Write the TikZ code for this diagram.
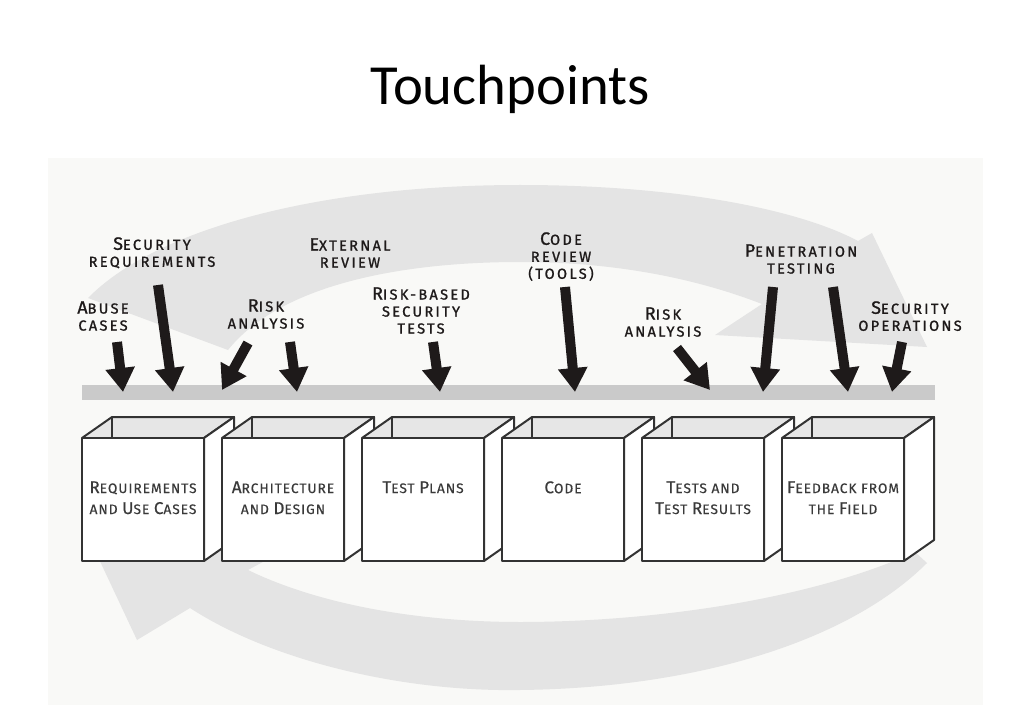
\documentclass[tikz,border=0pt]{standalone}
\usepackage{fontspec}
\usetikzlibrary{arrows.meta}
\newfontfamily\titlefont{Carlito}
\newfontfamily\labfont[LetterSpace=16,FakeBold=1.2]{Fira Sans}
\newfontfamily\boxfont[LetterSpace=7,FakeBold=0.4]{Fira Sans}
\definecolor{panel}{HTML}{F9F9F7}
\definecolor{band}{HTML}{E4E4E4}
\definecolor{barc}{HTML}{CACACA}
\definecolor{inner}{HTML}{E6E6E6}
\definecolor{edge}{HTML}{333333}
\definecolor{boxink}{HTML}{3A3A3A}
\definecolor{ink}{HTML}{1E1A1A}
\newcommand\LB[1]{{\fontsize{13.4}{12.75}\selectfont #1}}
\newcommand\BB[1]{{\fontsize{12.8}{15.75}\selectfont #1}}
\tikzset{
  lab/.style={align=center, anchor=north, inner sep=0pt, text=ink,
    font=\labfont\fontsize{10.9}{12.75}\selectfont},
  boxtext/.style={align=center, anchor=north, inner sep=0pt, text=boxink,
    font=\boxfont\fontsize{10.3}{15.75}\selectfont},
  bigarrow/.style={draw=ink, line width=7.5pt,
    -{Triangle[width=21pt,length=18pt]}},
  boxline/.style={draw=edge, line width=1.5pt, line join=round},
}
\newcommand\openbox[2]{%
  \fill[inner] (#1,438) -- (#1+30,417) -- (#1+152,417) -- (#1+122,438) -- cycle;
  \draw[boxline] (#1,438) -- (#1+30,417) -- (#1+152,417) -- (#1+122,438);
  \draw[boxline] (#1+30,417) -- (#1+30,438);
  \draw[boxline, fill=white] (#1+122,438) -- (#1+152,417) -- (#1+152,540) -- (#1+122,561) -- cycle;
  \draw[boxline, fill=white] (#1,438) rectangle (#1+122,561);
  \coordinate (#2) at (#1+61,481);
}
\begin{document}
\begin{tikzpicture}[x=0.75pt,y=-0.75pt]
\useasboundingbox (0,0) rectangle (1024,709);
\fill[white] (0,0) rectangle (1024,709);
\fill[panel] (48,158) rectangle (983,705);

% title
\node[anchor=base, inner sep=0pt, font=\titlefont\fontsize{42.5}{48}\selectfont] (title) at (510,105) {Touchpoints};

% upper sweeping arrow
\fill[band] (88,298) .. controls (160,225) and (330,185) .. (520,185)
  .. controls (680,185) and (800,210) .. (858,241)
  -- (872,233) -- (927,347) -- (715,335) -- (762,304)
  .. controls (700,280) and (620,262) .. (520,262)
  .. controls (400,262) and (280,285) .. (228,350) -- cycle;

% lower sweeping arrow
\fill[band] (190,608) .. controls (270,660) and (400,692) .. (520,690)
  .. controls (700,688) and (850,640) .. (927,563)
  -- (915,552)
  .. controls (810,600) and (650,622) .. (520,622)
  .. controls (420,622) and (320,605) .. (248,570)
  -- (296,544) -- (90,540) -- (137,640) -- cycle;

% bar
\fill[barc] (82,385) rectangle (935,400);

% boxes
\openbox{82}{b1}
\openbox{222}{b2}
\openbox{362}{b3}
\openbox{502}{b4}
\openbox{642}{b5}
\openbox{782}{b6}

\node[boxtext] (t1) at (b1) {\BB{R}EQUIREMENTS\\AND \BB{U}SE \BB{C}ASES};
\node[boxtext] (t2) at (b2) {\BB{A}RCHITECTURE\\AND \BB{D}ESIGN};
\node[boxtext] (t3) at (b3) {\BB{T}EST \BB{P}LANS};
\node[boxtext] (t4) at (b4) {\BB{C}ODE};
\node[boxtext] (t5) at (b5) {\BB{T}ESTS AND\\\BB{T}EST \BB{R}ESULTS};
\node[boxtext] (t6) at (b6) {\BB{F}EEDBACK FROM\\THE \BB{F}IELD};

% labels
\node[lab] (l1) at (103,301) {\LB{A}BUSE\\CASES};
\node[lab] (l2) at (152,237) {\LB{S}ECURITY\\REQUIREMENTS};
\node[lab] (l3) at (350,238) {\LB{E}XTERNAL\\REVIEW};
\node[lab] (l4) at (266,299) {\LB{R}ISK\\ANALYSIS};
\node[lab] (l5) at (421,287) {\LB{R}ISK-BASED\\SECURITY\\TESTS};
\node[lab] (l6) at (561,232) {\LB{C}ODE\\REVIEW\\(TOOLS)};
\node[lab] (l7) at (663,307) {\LB{R}ISK\\ANALYSIS};
\node[lab] (l8) at (801,244) {\LB{P}ENETRATION\\TESTING};
\node[lab] (l9) at (910,301) {\LB{S}ECURITY\\OPERATIONS};

% arrow ends
\coordinate (a1s) at (117,342);  \coordinate (a1e) at (123,392);
\coordinate (a2s) at (158,285);  \coordinate (a2e) at (173,392);
\coordinate (a3s) at (248,343);  \coordinate (a3e) at (222,390);
\coordinate (a4s) at (290,342);  \coordinate (a4e) at (297,392);
\coordinate (a5s) at (433,342);  \coordinate (a5e) at (440,392);
\coordinate (a6s) at (565,287);  \coordinate (a6e) at (575,392);
\coordinate (a7s) at (677,348);  \coordinate (a7e) at (710,390);
\coordinate (a8s) at (773,287);  \coordinate (a8e) at (763,392);
\coordinate (a9s) at (833,287);  \coordinate (a9e) at (848,392);
\coordinate (a10s) at (902,342); \coordinate (a10e) at (892,392);

\foreach \i in {1,...,10} {
  \draw[bigarrow] (a\i s) -- (a\i e);
}
\end{tikzpicture}
\end{document}
